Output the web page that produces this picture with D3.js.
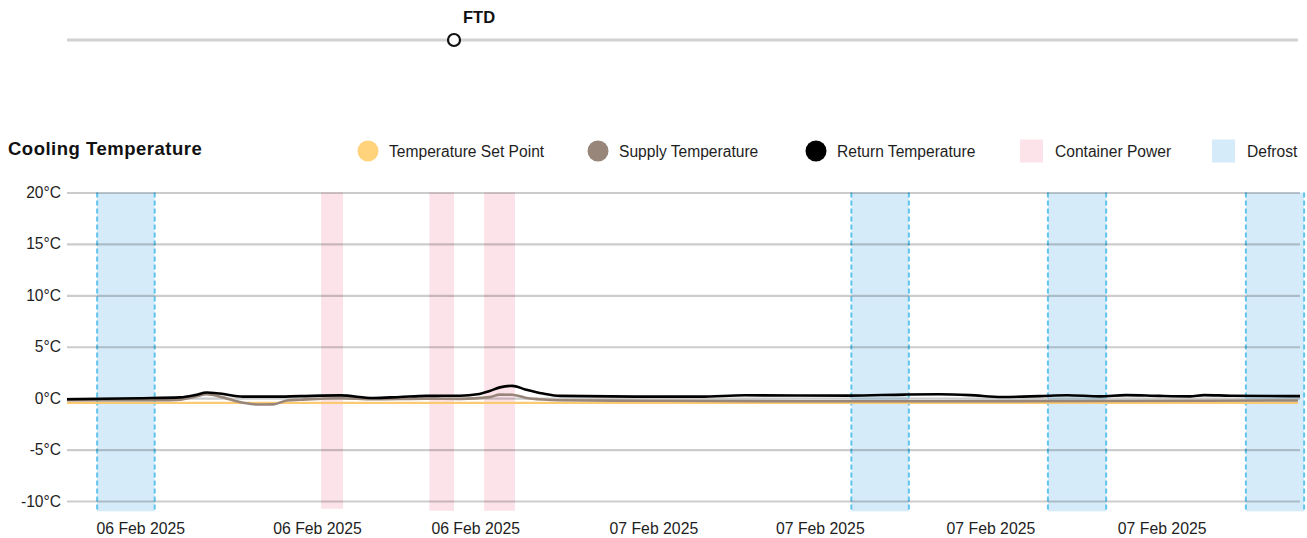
<!DOCTYPE html>
<html>
<head>
<meta charset="utf-8">
<script src="https://cdn.jsdelivr.net/npm/d3@7"></script>
<style>
  html, body { margin: 0; padding: 0; background: #fff; overflow: hidden; }
  svg { display: block; font-family: "Liberation Sans", Arial, sans-serif; }
</style>
</head>
<body>
<div id="chart"></div>
<script>
// Data
const domainTimes = ["2025-02-06T12:00", "2025-02-07T18:00"];
const tickTimes = ["2025-02-06T13:47", "2025-02-06T18:05", "2025-02-06T21:56",
  "2025-02-07T02:16", "2025-02-07T06:19", "2025-02-07T10:28", "2025-02-07T14:38"];
const yTicks = [-10, -5, 0, 5, 10, 15, 20];

const setPointTimes = ["2025-02-06T12:00", "2025-02-07T17:57"];
const setPointValues = [-0.45, -0.45];

const supplyTimes = ["2025-02-06T12:00", "2025-02-06T13:00", "2025-02-06T14:16", "2025-02-06T14:45",
  "2025-02-06T15:07", "2025-02-06T15:24", "2025-02-06T15:43", "2025-02-06T16:17", "2025-02-06T16:37",
  "2025-02-06T17:01", "2025-02-06T17:21", "2025-02-06T17:40", "2025-02-06T18:39", "2025-02-06T19:27",
  "2025-02-06T20:45", "2025-02-06T21:34", "2025-02-06T22:17", "2025-02-06T22:32", "2025-02-06T22:50",
  "2025-02-06T23:09", "2025-02-06T23:35", "2025-02-07T00:00", "2025-02-07T02:11", "2025-02-07T05:50",
  "2025-02-07T09:14", "2025-02-07T13:08", "2025-02-07T17:57"];
const supplyValues = [-0.2, -0.2, -0.2, -0.15, 0.15, 0.38, 0.15, -0.45, -0.62, -0.6, -0.22, -0.15,
  0.0, -0.1, -0.05, -0.07, 0.1, 0.35, 0.33, 0.05, -0.13, -0.2, -0.25, -0.3, -0.3, -0.28, -0.22];

const returnTimes = ["2025-02-06T12:00", "2025-02-06T13:47", "2025-02-06T14:45", "2025-02-06T15:07",
  "2025-02-06T15:24", "2025-02-06T15:43", "2025-02-06T16:17", "2025-02-06T17:01", "2025-02-06T17:40",
  "2025-02-06T18:39", "2025-02-06T19:27", "2025-02-06T20:06", "2025-02-06T20:45", "2025-02-06T21:34",
  "2025-02-06T21:59", "2025-02-06T22:17", "2025-02-06T22:32", "2025-02-06T22:50", "2025-02-06T23:09",
  "2025-02-06T23:35", "2025-02-07T00:00", "2025-02-07T02:11", "2025-02-07T03:24", "2025-02-07T04:30",
  "2025-02-07T07:03", "2025-02-07T08:23", "2025-02-07T09:14", "2025-02-07T09:58", "2025-02-07T10:45",
  "2025-02-07T11:40", "2025-02-07T12:20", "2025-02-07T13:08", "2025-02-07T13:46", "2025-02-07T14:35",
  "2025-02-07T15:19", "2025-02-07T15:40", "2025-02-07T16:18", "2025-02-07T18:00"];
const returnValues = [-0.1, 0.0, 0.08, 0.3, 0.55, 0.45, 0.15, 0.15, 0.2, 0.27, 0.02, 0.12, 0.22, 0.24,
  0.38, 0.7, 1.05, 1.2, 0.85, 0.45, 0.22, 0.15, 0.15, 0.28, 0.25, 0.35, 0.38, 0.3, 0.12, 0.2, 0.28,
  0.18, 0.3, 0.22, 0.18, 0.3, 0.24, 0.2];

const powerStarts = ["2025-02-06T18:11", "2025-02-06T20:49", "2025-02-06T22:09"];
const powerEnds = ["2025-02-06T18:43", "2025-02-06T21:25", "2025-02-06T22:54"];
const powerLow = [-10.75, -10.95, -10.95];

const defrostStarts = ["2025-02-06T12:44", "2025-02-07T07:05", "2025-02-07T11:52", "2025-02-07T16:41"];
const defrostEnds = ["2025-02-06T14:08", "2025-02-07T08:29", "2025-02-07T13:17", "2025-02-07T18:06"];

const ftdTime = "2025-02-06T21:25";

const legendLabels = ["Temperature Set Point", "Supply Temperature", "Return Temperature",
  "Container Power", "Defrost"];

// Setup
const width = 1307;
const height = 538;
const margin = { top: 192.5, right: 7, bottom: 26.7, left: 67 };
const innerWidth = width - margin.left - margin.right;
const innerHeight = height - margin.top - margin.bottom;
const FONT = "'Liberation Sans', Arial, sans-serif";

const COLOURS = {
  setPoint: "#fdca74",
  supply: "#978679",
  ret: "#000000",
  power: "#fbe3e9",
  defrost: "#d5ebf9",
  defrostEdge: "#5fc5ec",
  text: "#1e1e1e"
};

const parse = d3.utcParse("%Y-%m-%dT%H:%M");

const svg = d3.select("#chart").append("svg")
  .attr("width", width)
  .attr("height", height);

const xScale = d3.scaleUtc()
  .domain(domainTimes.map(parse))
  .range([0, innerWidth]);

const yScale = d3.scaleLinear()
  .domain([-11, 20])
  .range([innerHeight, 0]);

// FTD timeline
const timeline = svg.append("g").attr("transform", `translate(${margin.left}, 40)`);
timeline.append("line")
  .attr("x1", 0).attr("x2", innerWidth - 2)
  .attr("stroke", "#d2d2d2").attr("stroke-width", 3);
timeline.append("circle")
  .attr("cx", xScale(parse(ftdTime)))
  .attr("r", 6)
  .attr("fill", "#fff").attr("stroke", "#111").attr("stroke-width", 2.2);
timeline.append("text")
  .attr("x", xScale(parse(ftdTime)) + 25)
  .attr("y", -17)
  .attr("text-anchor", "middle")
  .style("font-size", "16.5px").style("font-weight", "bold")
  .attr("fill", "#111")
  .text("FTD");

// Title
svg.append("text")
  .attr("x", 8).attr("y", 155)
  .style("font-size", "18.5px").style("font-weight", "bold")
  .style("letter-spacing", "0.5px")
  .attr("fill", "#111")
  .text("Cooling Temperature");

// Legend
const legendX = [368, 598, 816, 1020, 1212];
const legendTypes = ["circle", "circle", "circle", "rect", "rect"];
const legendColours = ["#ffd37c", COLOURS.supply, COLOURS.ret, COLOURS.power, COLOURS.defrost];
const legend = svg.append("g").attr("transform", "translate(0, 151)");
legend.selectAll(".legend-item")
  .data(legendLabels)
  .join("g")
  .attr("class", "legend-item")
  .attr("transform", (d, i) => `translate(${legendX[i]}, 0)`)
  .each(function (d, i) {
    const item = d3.select(this);
    if (legendTypes[i] === "circle") {
      item.append("circle").attr("r", 10.5).attr("fill", legendColours[i]);
      item.append("text").attr("x", 21).attr("y", 6).text(d);
    } else {
      item.append("rect").attr("x", 0).attr("y", -11.5).attr("width", 23).attr("height", 23)
        .attr("fill", legendColours[i]);
      item.append("text").attr("x", 35).attr("y", 6).text(d);
    }
  })
  .selectAll("text")
  .style("font-size", "15.6px")
  .attr("fill", COLOURS.text);

const chart = svg.append("g")
  .attr("transform", `translate(${margin.left}, ${margin.top})`);

// Container power bands
chart.selectAll(".power")
  .data(powerStarts)
  .join("rect")
  .attr("class", "power")
  .attr("x", (d) => xScale(parse(d)))
  .attr("y", yScale(20))
  .attr("width", (d, i) => xScale(parse(powerEnds[i])) - xScale(parse(d)))
  .attr("height", (d, i) => yScale(powerLow[i]) - yScale(20))
  .attr("fill", COLOURS.power);

// Defrost bands
const defrost = chart.selectAll(".defrost")
  .data(defrostStarts)
  .join("g")
  .attr("class", "defrost");
defrost.append("rect")
  .attr("x", (d) => xScale(parse(d)))
  .attr("y", yScale(20))
  .attr("width", (d, i) => xScale(parse(defrostEnds[i])) - xScale(parse(d)))
  .attr("height", yScale(-11) - yScale(20))
  .attr("fill", COLOURS.defrost);
[defrostStarts, defrostEnds].forEach((edges) => {
  defrost.append("line")
    .attr("x1", (d, i) => xScale(parse(edges[i])))
    .attr("x2", (d, i) => xScale(parse(edges[i])))
    .attr("y1", yScale(20))
    .attr("y2", yScale(-11))
    .attr("stroke", COLOURS.defrostEdge)
    .attr("stroke-width", 2)
    .attr("stroke-dasharray", "5,3");
});

// Y axis with gridlines
const yAxis = d3.axisLeft(yScale)
  .tickValues(yTicks)
  .tickSize(-innerWidth)
  .tickPadding(6)
  .tickFormat((d) => `${d}°C`);
chart.append("g")
  .attr("class", "y-axis")
  .call(yAxis)
  .call((g) => g.select(".domain").remove())
  .call((g) => g.selectAll(".tick line")
    .attr("stroke", "#000").attr("stroke-opacity", 0.2).attr("stroke-width", 2.2))
  .call((g) => g.selectAll(".tick text")
    .attr("fill", COLOURS.text).style("font-size", "15.6px").style("font-family", FONT));

// X axis
const xAxis = d3.axisBottom(xScale)
  .tickValues(tickTimes.map(parse))
  .tickSize(0)
  .tickPadding(11)
  .tickFormat(d3.utcFormat("%d %b %Y"));
chart.append("g")
  .attr("class", "x-axis")
  .attr("transform", `translate(0, ${innerHeight})`)
  .call(xAxis)
  .call((g) => g.select(".domain").remove())
  .call((g) => g.selectAll(".tick text")
    .attr("fill", COLOURS.text).style("font-size", "15.8px").style("font-family", FONT));

// Lines
const line = d3.line()
  .x((d) => xScale(d.t))
  .y((d) => yScale(d.v))
  .curve(d3.curveMonotoneX);

const series = [
  { times: setPointTimes, values: setPointValues, colour: COLOURS.setPoint, w: 2.2 },
  { times: supplyTimes, values: supplyValues, colour: COLOURS.supply, w: 2.6 },
  { times: returnTimes, values: returnValues, colour: COLOURS.ret, w: 2.6 }
];
series.forEach((s) => {
  chart.append("path")
    .datum(s.times.map((t, i) => ({ t: parse(t), v: s.values[i] })))
    .attr("fill", "none")
    .attr("stroke", s.colour)
    .attr("stroke-width", s.w)
    .attr("stroke-linejoin", "round")
    .attr("d", line);
});
</script>
</body>
</html>
